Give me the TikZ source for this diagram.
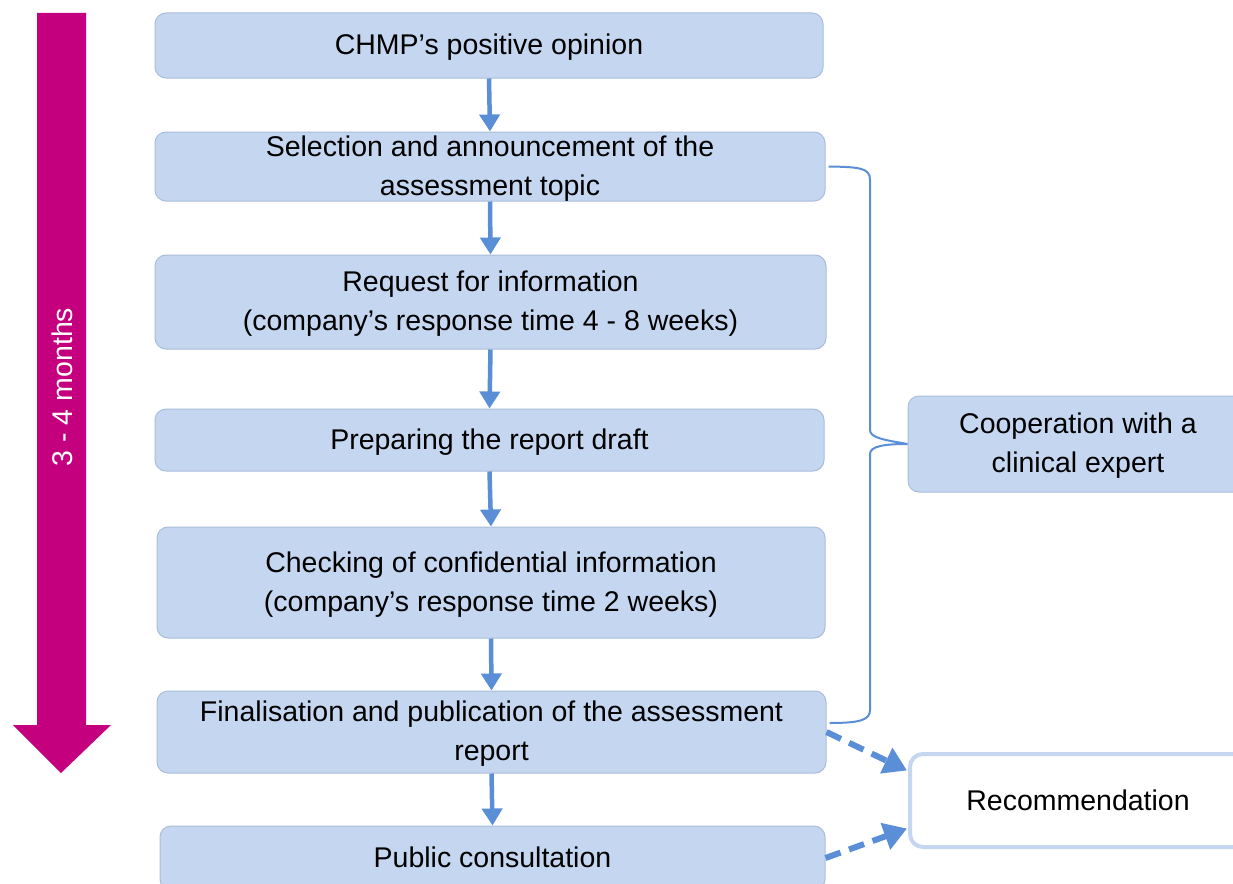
\documentclass[tikz,border=0pt]{standalone}
\usepackage{fontspec}
\setmainfont{Liberation Sans}
\usetikzlibrary{arrows.meta}
\definecolor{boxfill}{HTML}{C5D7F0}
\definecolor{boxline}{HTML}{A9BDDA}
\definecolor{arrblue}{HTML}{5A8FD8}
\definecolor{magenta}{HTML}{C4007E}
\tikzset{
  stepbox/.style={draw=boxline, line width=1pt, fill=boxfill, rounded corners=11pt,
    align=center, inner sep=0pt, text depth=2pt, font=\fontsize{28.5}{39}\selectfont},
  recbox/.style={draw=boxfill, line width=4pt, fill=white, rounded corners=13pt,
    align=center, inner sep=0pt, font=\fontsize{28.5}{39}\selectfont},
  flow/.style={draw=arrblue, line width=4.5pt, -{Triangle[width=20pt,length=17pt]}},
  dflow/.style={draw=arrblue, line width=6pt, dash pattern=on 16pt off 9pt, -{Triangle[width=27pt,length=23pt]}},
  brace/.style={draw=arrblue, line width=2pt},
}
\begin{document}
\begin{tikzpicture}[x=1pt,y=-1pt]
\clip (0,0) rectangle (1233,883);
\fill[white] (0,0) rectangle (1233,883);
% time arrow
\fill[magenta] (37,13) -- (86,13) -- (86,725) -- (111,725) -- (61,773) -- (13,725) -- (37,725) -- cycle;
\node[rotate=90, text=white, font=\fontsize{28.5}{34}\selectfont] (time) at (62,387) {3 - 4 months};
% steps
\node[stepbox, minimum width=668pt, minimum height=65pt] (b1) at (489,45.5) {CHMP’s positive opinion};
\node[stepbox, minimum width=670pt, minimum height=69pt] (b2) at (490,166.5) {Selection and announcement of the\\assessment topic};
\node[stepbox, minimum width=671pt, minimum height=94pt] (b3) at (490.5,302) {Request for information\\(company’s response time 4 - 8 weeks)};
\node[stepbox, minimum width=669pt, minimum height=62pt] (b4) at (489.5,440) {Preparing the report draft};
\node[stepbox, minimum width=668pt, minimum height=111pt] (b5) at (491,582.5) {Checking of confidential information\\(company’s response time 2 weeks)};
\node[stepbox, minimum width=669pt, minimum height=82pt] (b6) at (491.5,732) {Finalisation and publication of the assessment\\report};
\node[stepbox, minimum width=665pt, minimum height=64pt] (b7) at (492.5,858) {Public consultation};
\node[stepbox, minimum width=340pt, minimum height=96pt] (coop) at (1078,444) {Cooperation with a\\clinical expert};
\node[recbox, minimum width=336pt, minimum height=93pt] (rec) at (1078,800.5) {Recommendation};
% flow arrows
\draw[flow] (b1.south) -- (b2.north);
\draw[flow] (b2.south) -- (b3.north);
\draw[flow] (b3.south) -- (b4.north);
\draw[flow] (b4.south) -- (b5.north);
\draw[flow] (b5.south) -- (b6.north);
\draw[flow] (b6.south) -- (b7.north);
% brace
\coordinate (bt) at (870,180);
\coordinate (bb) at (870,710);
\draw[brace] ([xshift=3pt]b2.east) .. controls (860,167) and (870,168) .. (bt) -- (870,430)
  .. controls (870,438) and (885,440) .. (coop.west)
  .. controls (885,444) and (870,446) .. (870,454) -- (bb)
  .. controls (870,720) and (860,723) .. ([xshift=3pt,yshift=9pt]b6.east);
% dashed arrows
\draw[dflow] (b6.east) -- ([xshift=-1pt,yshift=30pt]rec.west);
\draw[dflow] (b7.east) -- ([xshift=-1pt,yshift=-28pt]rec.west);
\end{tikzpicture}
\end{document}
